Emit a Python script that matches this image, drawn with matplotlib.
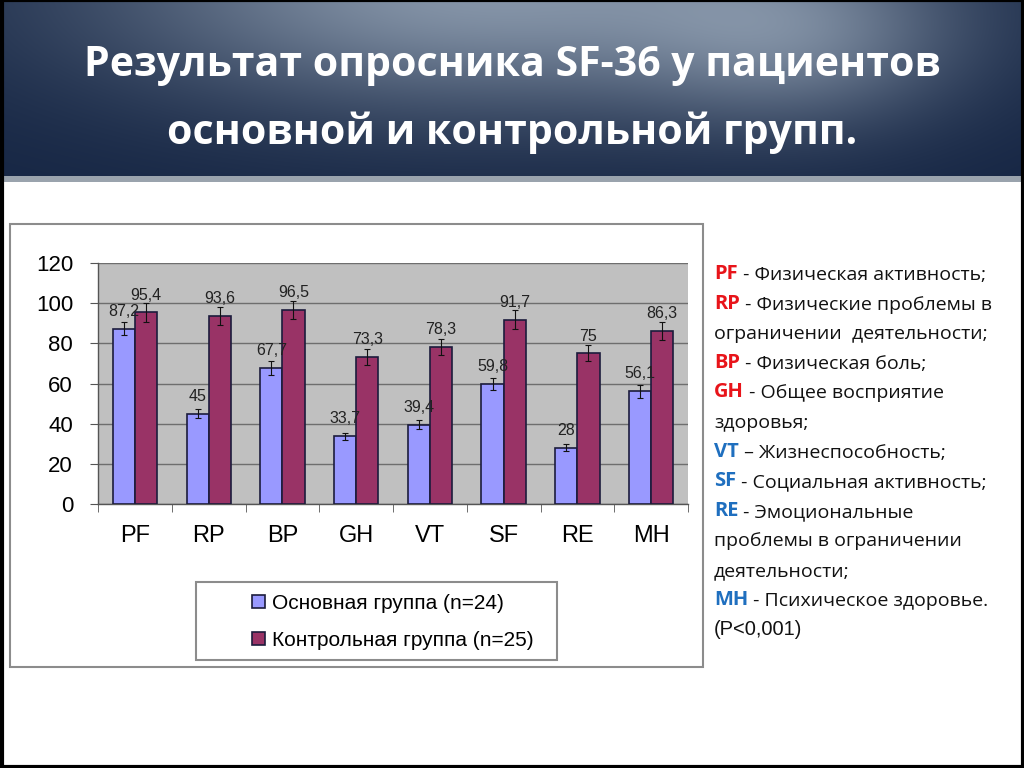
import matplotlib
matplotlib.use('Agg')
import matplotlib.pyplot as plt
import numpy as np
from matplotlib.patches import Rectangle

# --- данные ---
categories = ['PF', 'RP', 'BP', 'GH', 'VT', 'SF', 'RE', 'MH']
main_group = [87.2, 45, 67.7, 33.7, 39.4, 59.8, 28, 56.1]
control_group = [95.4, 93.6, 96.5, 73.3, 78.3, 91.7, 75, 86.3]
main_err = [3.2, 2.4, 3.3, 1.7, 2.2, 3.0, 1.7, 3.2]
control_err = [4.8, 4.7, 4.5, 3.9, 4.0, 4.7, 4.0, 4.5]
series_labels = ['Основная группа (n=24)', 'Контрольная группа (n=25)']
y_ticks = [0, 20, 40, 60, 80, 100, 120]

title_lines = ['Результат опросника SF-36 у пациентов',
               'основной и контрольной групп.']

# расшифровка шкал: (аббревиатура, текст, цвет аббревиатуры)
notes = [
    ('PF', ' - Физическая активность;', 'red'),
    ('RP', ' - Физические проблемы в', 'red'),
    ('', 'ограничении  деятельности;', None),
    ('BP', ' - Физическая боль;', 'red'),
    ('GH', ' - Общее восприятие', 'red'),
    ('', 'здоровья;', None),
    ('VT', ' – Жизнеспособность;', 'blue'),
    ('SF', ' - Социальная активность;', 'blue'),
    ('RE', ' - Эмоциональные', 'blue'),
    ('', 'проблемы в ограничении', None),
    ('', 'деятельности;', None),
    ('MH', ' - Психическое здоровье.', 'blue'),
]
p_value_text = '(P<0,001)'

W, H = 1024, 768
fig = plt.figure(figsize=(W / 100, H / 100), dpi=100)
fig.patch.set_facecolor('white')

# фоновая ось в пикселях
bg = fig.add_axes([0, 0, 1, 1])
bg.set_xlim(0, W)
bg.set_ylim(H, 0)
bg.axis('off')

# шапка с градиентом
hh = 178
xx, yy = np.meshgrid(np.arange(W), np.arange(hh))
dark = np.array([22, 38, 68]) / 255
light = np.array([160, 175, 192]) / 255
glow = np.exp(-(((xx - 480) / 380) ** 2 + ((yy + 10) / 120) ** 2))
glow2 = 0.4 * np.exp(-(((xx - 800) / 160) ** 2 + ((yy - 40) / 90) ** 2))
g = np.clip(glow * 0.8 + glow2, 0, 1)[..., None]
img = dark + (light - dark) * g
bg.imshow(img, extent=[0, W, hh, 0], aspect='auto', zorder=0)
bg.add_patch(Rectangle((0, 176), W, 6, facecolor='#9aa3ad', edgecolor='none', zorder=1))
bg.add_patch(Rectangle((1.5, 0), W - 3, H - 1.5, facecolor='none', edgecolor='black', lw=3, zorder=5))

for i, line in enumerate(title_lines):
    bg.text(512, 65 + i * 68, line, color='white', fontsize=29.5, fontweight='bold',
            family='Open Sans', ha='center', va='center', zorder=3)

# рамка диаграммы и легенды
bg.add_patch(Rectangle((10, 224), 693, 443, facecolor='white', edgecolor='#8c8c8c', lw=1.5, zorder=1))
bg.add_patch(Rectangle((196, 582), 361, 78, facecolor='none', edgecolor='#8c8c8c', lw=1.5, zorder=2))

# правый текст
y0, dy = 284, 29.6
for i, (abbr, rest, col) in enumerate(notes):
    y = y0 + i * dy
    c = '#e8141a' if col == 'red' else '#1f6fbf'
    if abbr:
        t = bg.text(714, y, abbr, color=c, fontsize=14.5, fontweight='bold',
                    family='Open Sans', va='bottom', zorder=3)
        bg.annotate(rest, xy=(1, 0), xycoords=t, va='bottom', fontsize=14,
                    family='Open Sans', color='#111111', zorder=3)
    else:
        bg.text(714, y, rest, fontsize=14, family='Open Sans', color='#111111',
                va='bottom', zorder=3)
bg.text(714, y0 + len(notes) * dy, p_value_text, fontsize=14.5, family='Liberation Sans',
        color='#111111', va='bottom', zorder=3)

# --- диаграмма ---
ax = fig.add_axes([98 / W, 1 - 504 / H, 590 / W, 241 / H])
ax.set_facecolor('#c0c0c0')
x = np.arange(len(categories))
w = 0.3
b1 = ax.bar(x - w / 2, main_group, w, yerr=main_err, color='#9999ff', edgecolor='#1c1c3c',
            lw=1.2, capsize=2, error_kw=dict(ecolor='#111111', elinewidth=0.8, capthick=0.8),
            zorder=3, label=series_labels[0])
b2 = ax.bar(x + w / 2, control_group, w, yerr=control_err, color='#993366', edgecolor='#1c1c3c',
            lw=1.2, capsize=2, error_kw=dict(ecolor='#111111', elinewidth=0.8, capthick=0.8),
            zorder=3, label=series_labels[1])

for bars, vals in ((b1, main_group), (b2, control_group)):
    for r, v in zip(bars, vals):
        ax.annotate(f'{v:g}'.replace('.', ','), (r.get_x() + r.get_width() / 2, v),
                    xytext=(0, 12.5), textcoords='offset points', ha='center', va='center',
                    fontsize=11.5, family='Liberation Sans', color='#222222', zorder=4)

ax.set_xlim(-0.5, len(categories) - 0.5)
ax.set_ylim(0, 120)
ax.set_yticks(y_ticks)
ax.set_yticklabels([str(v) for v in y_ticks], fontsize=16, family='Liberation Sans')
ax.set_xticks(x)
ax.set_xticklabels(categories, fontsize=17, family='Liberation Sans')
ax.set_xticks(np.arange(-0.5, len(categories)), minor=True)
ax.tick_params(axis='x', which='major', length=0, pad=15)
ax.tick_params(axis='x', which='minor', length=6, color='#555555', direction='out')
ax.tick_params(axis='y', length=6, color='#555555', pad=12)
ax.yaxis.grid(True, color='#6e6e6e', lw=1, zorder=1)
ax.set_axisbelow(True)
for s in ('top', 'right'):
    ax.spines[s].set_visible(False)
for s in ('left', 'bottom'):
    ax.spines[s].set_color('#555555')
    ax.spines[s].set_linewidth(1)

fig.legend(handles=[b1, b2], labels=series_labels, loc='center',
           bbox_to_anchor=(393 / W, 1 - 622 / H), frameon=False,
           prop={'family': 'Liberation Sans', 'size': 15}, handlelength=0.6, handleheight=0.6,
           handletextpad=0.35, labelspacing=0.85)

fig.savefig('out.png', dpi=100)
